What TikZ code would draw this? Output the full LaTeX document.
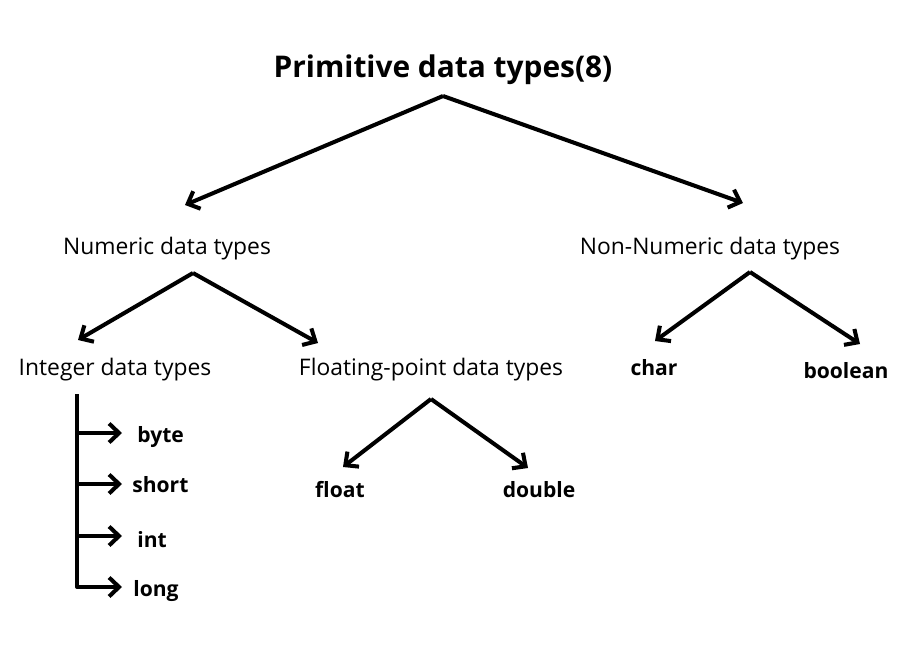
\documentclass[tikz,border=0pt]{standalone}
\usepackage{fontspec}
\setmainfont{Open Sans}
\usetikzlibrary{arrows.meta}

\begin{document}
\begin{tikzpicture}[
  x=0.02cm, y=-0.02cm,
  >={Straight Barb[length=2mm, width=3.8mm, line width=2.3pt]},
  ttl/.style   ={font=\fontsize{17}{20}\selectfont\bfseries, anchor=base, inner sep=0pt},
  grp/.style   ={font=\fontsize{13}{15}\selectfont, anchor=base, inner sep=0pt},
  leaf/.style  ={font=\fontsize{12}{14}\selectfont\bfseries, anchor=base, inner sep=0pt},
  item/.style  ={leaf, anchor=base west},
  branch/.style={->, line width=2.3pt, line join=round},
]
\useasboundingbox (0,0) rectangle (900,650);

% ---- root ------------------------------------------------------------------
\node[ttl] (root) at (443,77) {Primitive data types(8)};
\coordinate (rootApex) at (443,96);
\coordinate (numTip)   at (185,205);
\coordinate (nonTip)   at (743,203);
\draw[branch] (rootApex) -- (numTip);
\draw[branch] (rootApex) -- (nonTip);

% ---- second level ----------------------------------------------------------
\node[grp] (num) at (167,254) {Numeric data types};
\node[grp] (non) at (710,254) {Non-Numeric data types};

% numeric split
\coordinate (numApex) at (193,273);
\coordinate (intTip)  at (78,340);
\coordinate (fltTip)  at (318,343);
\draw[branch] (numApex) -- (intTip);
\draw[branch] (numApex) -- (fltTip);

% non-numeric split
\coordinate (nonApex)  at (750,272);
\coordinate (charTip)  at (655,341);
\coordinate (boolTip)  at (860,344);
\draw[branch] (nonApex) -- (charTip);
\draw[branch] (nonApex) -- (boolTip);

% ---- third level -----------------------------------------------------------
\node[grp]  (int)  at (115,375) {Integer data types};
\node[grp]  (flt)  at (431,375) {Floating-point data types};
\node[leaf] (chr)  at (654,375) {char};
\node[leaf] (bool) at (846,378) {boolean};

% floating-point split
\coordinate (fltApex)   at (431,399);
\coordinate (floatTip)  at (343,467);
\coordinate (doubleTip) at (528,468);
\draw[branch] (fltApex) -- (floatTip);
\draw[branch] (fltApex) -- (doubleTip);

\node[leaf] (float)  at (340,497) {float};
\node[leaf] (double) at (539,497) {double};

% ---- integer list ----------------------------------------------------------
\coordinate (stemTop)  at (77,394);
\coordinate (byteTip)  at (122,433);
\coordinate (shortTip) at (122,484);
\coordinate (intgTip)  at (122,536);
\coordinate (longTip)  at (122,587);
\draw[branch] (stemTop) |- (longTip);
\draw[branch] (stemTop |- byteTip)  -- (byteTip);
\draw[branch] (stemTop |- shortTip) -- (shortTip);
\draw[branch] (stemTop |- intgTip)  -- (intgTip);

\node[item] (byte)  at (137,442) {byte};
\node[item] (short) at (132,492) {short};
\node[item] (intg)  at (137,547) {int};
\node[item] (long)  at (133,596) {long};

\end{tikzpicture}
\end{document}
